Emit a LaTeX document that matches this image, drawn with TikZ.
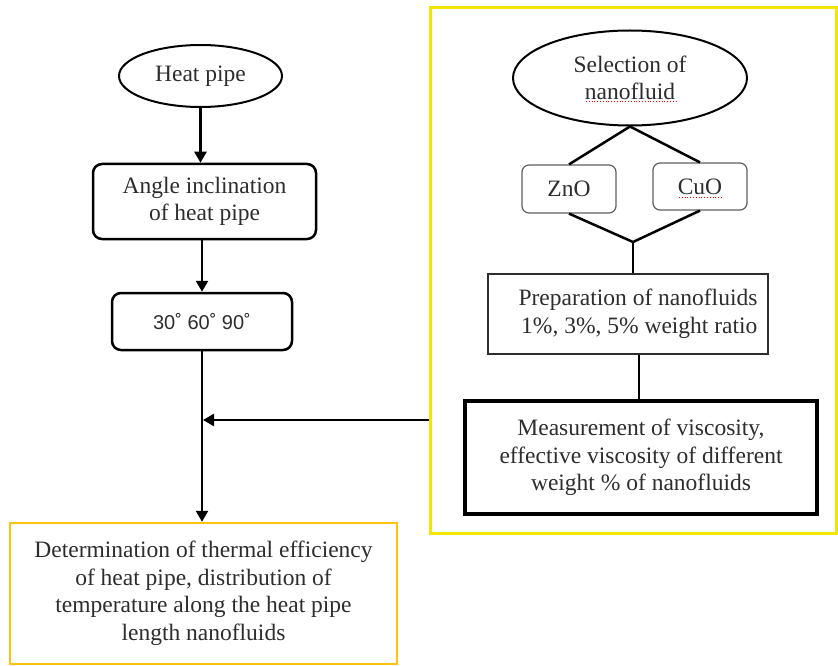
\documentclass[tikz,border=0pt]{standalone}
\usepackage{fontspec}
\setmainfont{Liberation Serif}
\newfontfamily\digitfont{Liberation Sans}
\usetikzlibrary{arrows.meta,shapes.geometric}
\definecolor{frameyellow}{RGB}{242,230,0}
\definecolor{boxgold}{RGB}{255,194,14}
\definecolor{thingray}{RGB}{95,95,95}
\definecolor{inkgray}{RGB}{45,45,45}
\begin{document}
\begin{tikzpicture}[x=1pt,y=-1pt,
  every node/.style={font=\fontsize{23.5pt}{27.5pt}\selectfont, inner sep=0pt, align=center, text=inkgray},
  oval/.style={ellipse, draw, line width=2pt},
  rbox/.style={draw, rounded corners=9pt, line width=2.5pt},
  sbox/.style={draw=thingray, rounded corners=7pt, line width=1.2pt},
  pbox/.style={draw=inkgray, line width=2pt},
  mbox/.style={draw, line width=3.5pt},
  dbox/.style={draw=boxgold, line width=2.5pt},
  frm/.style={draw=frameyellow, line width=3pt},
  arr/.style={line width=2.5pt, -{Triangle[length=11pt,width=12pt]}},
  conn/.style={line width=2.5pt},
  squig/.style={red, line width=0.8pt, dotted}
]
\useasboundingbox (0,0) rectangle (838,666);

% left column
\node[oval, minimum width=163pt, minimum height=62pt] (hp) at (200.5,76) {Heat pipe};
\node[rbox, minimum width=223pt, minimum height=75pt] (ang) at (204.5,201.5) {Angle inclination\\of heat pipe};
\node[rbox, minimum width=180pt, minimum height=57pt, font=\digitfont\fontsize{20pt}{24pt}\selectfont] (deg) at (202,321.5) {30˚ 60˚ 90˚};
\node[dbox, minimum width=387pt, minimum height=141pt] (det) at (203.5,593.5) {Determination of thermal efficiency\\of heat pipe, distribution of\\temperature along the heat pipe\\length nanofluids};

% right frame
\node[frm, minimum width=406pt, minimum height=525pt] (frame) at (633,270.5) {};
\node[oval, minimum width=234pt, minimum height=95pt] (sel) at (630,78) {Selection of\\nanofluid};
\node[sbox, minimum width=94pt, minimum height=48pt] (zno) at (569,189) {ZnO};
\node[sbox, minimum width=94pt, minimum height=47pt] (cuo) at (700,186.5) {CuO};
\coordinate (m) at (633,242);
\node[pbox, minimum width=280pt, minimum height=80pt] (prep) at (628,314) {};
\node[align=right] (preptxt) at (638,314) {Preparation of nanofluids\\1\%, 3\%, 5\% weight ratio};
\node[mbox, minimum width=352pt, minimum height=113pt] (meas) at (641,457.5) {Measurement of viscosity,\\effective viscosity of different\\weight \% of nanofluids};

% spell-check underlines
\draw[squig] (586,101) -- (676,101);
\draw[squig] (679,197) -- (722,197);

% connectors
\draw[arr] (hp.south) -- (hp.south |- ang.north);
\draw[arr] (ang.south -| deg.north) -- (deg.north);
\draw[arr] (deg.south) -- (deg.south |- det.north);
\coordinate (j) at (203,420);
\draw[arr] (frame.west |- j) -- (j);

\draw[conn] (sel.south) -- (zno.north);
\draw[conn] (sel.south) -- (cuo.north);
\draw[conn] (zno.south) -- (m) -- (cuo.south);
\draw[conn] (m) -- (m |- prep.north);
\coordinate (pm) at (639,354);
\draw[conn] (pm |- prep.south) -- (pm |- meas.north);
\end{tikzpicture}
\end{document}
